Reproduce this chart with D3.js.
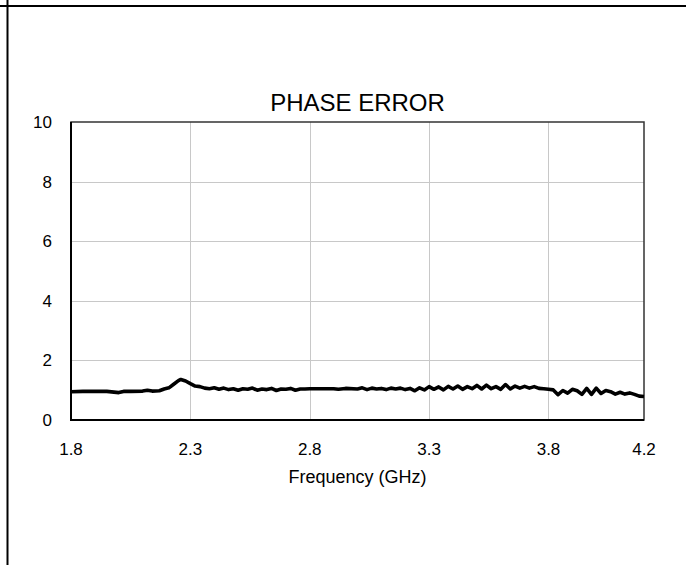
<!DOCTYPE html>
<html>
<head>
<meta charset="utf-8">
<script src="https://cdn.jsdelivr.net/npm/d3@7"></script>
<style>
  body { margin: 0; background: #fff; }
  svg { display: block; font-family: "Liberation Sans", Arial, sans-serif; }
</style>
</head>
<body>
<svg id="chart" width="687" height="565"></svg>
<script>
// phase error vs frequency
var freqs = [1.80,1.85,1.90,1.95,2.00,2.02,2.05,2.10,2.12,2.14,2.17,2.19,2.21,2.23,2.25,2.26,2.28,2.30,2.32,2.34,
             2.36,2.38,2.40,2.42,2.44,2.46,2.48,2.50,2.52,2.54,2.56,2.58,2.60,2.62,2.64,2.66,2.68,2.70,2.72,2.74,
             2.76,2.78,2.80,2.85,2.90,2.92,2.95,3.00,3.02,3.04,3.06,3.08,3.10,3.12,3.14,3.16,3.18,3.20,3.22,3.24,
             3.26,3.28,3.30,3.32,3.34,3.36,3.38,3.40,3.42,3.44,3.46,3.48,3.50,3.52,3.54,3.56,3.58,3.60,3.62,3.64,
             3.66,3.68,3.70,3.72,3.74,3.76,3.78,3.80,3.82,3.84,3.86,3.88,3.90,3.92,3.94,3.96,3.98,4.00,4.02,4.04,
             4.06,4.08,4.10,4.12,4.14,4.16,4.18,4.20];
var phaseErr = [0.95,0.96,0.96,0.96,0.92,0.96,0.96,0.97,1.00,0.97,0.98,1.04,1.08,1.20,1.32,1.36,1.31,1.22,1.14,1.12,
                1.07,1.05,1.08,1.03,1.07,1.02,1.05,1.00,1.05,1.03,1.07,1.00,1.04,1.02,1.06,0.99,1.04,1.03,1.06,1.00,
                1.04,1.04,1.05,1.05,1.05,1.03,1.06,1.04,1.08,1.02,1.07,1.04,1.06,1.02,1.07,1.04,1.07,1.02,1.06,0.98,
                1.08,1.01,1.12,1.03,1.11,1.01,1.13,1.04,1.14,1.03,1.12,1.05,1.16,1.04,1.17,1.05,1.12,1.03,1.19,1.04,
                1.14,1.07,1.13,1.07,1.12,1.06,1.05,1.03,1.01,0.85,0.99,0.90,1.03,0.98,0.86,1.06,0.86,1.07,0.89,0.99,
                0.95,0.87,0.93,0.87,0.91,0.86,0.80,0.79];
var xTicks = [1.8, 2.3, 2.8, 3.3, 3.8, 4.2];
var yTicks = [0, 2, 4, 6, 8, 10];
var chartTitle = "PHASE ERROR";
var xTitle = "Frequency (GHz)";

var svg = d3.select("#chart");
var width = +svg.attr("width"), height = +svg.attr("height");

var margin = {top: 122, right: 43, bottom: 145, left: 71};
var x = d3.scaleLinear().domain([1.8, 4.2]).range([margin.left, width - margin.right]);
var y = d3.scaleLinear().domain([0, 10]).range([height - margin.bottom, margin.top]);

// outer frame lines
svg.append("line").attr("x1", 0).attr("x2", 686).attr("y1", 6).attr("y2", 6)
  .attr("stroke", "#000").attr("stroke-width", 2);
svg.append("line").attr("x1", 7.5).attr("x2", 7.5).attr("y1", 0).attr("y2", height)
  .attr("stroke", "#000").attr("stroke-width", 2);

// gridlines
svg.append("g").selectAll("line")
  .data(yTicks.filter(function(d) { return d > 0 && d < 10; }))
  .enter().append("line")
  .attr("x1", x.range()[0]).attr("x2", x.range()[1])
  .attr("y1", function(d) { return Math.round(y(d)) + 0.5; })
  .attr("y2", function(d) { return Math.round(y(d)) + 0.5; })
  .attr("stroke", "#c8c8c8").attr("stroke-width", 1);

svg.append("g").selectAll("line")
  .data(xTicks.filter(function(d) { return d > 1.8 && d < 4.2; }))
  .enter().append("line")
  .attr("x1", function(d) { return Math.round(x(d)) + 0.5; })
  .attr("x2", function(d) { return Math.round(x(d)) + 0.5; })
  .attr("y1", y.range()[0]).attr("y2", y.range()[1])
  .attr("stroke", "#c8c8c8").attr("stroke-width", 1);

// plot border
svg.append("rect")
  .attr("x", x.range()[0]).attr("y", y.range()[1])
  .attr("width", x.range()[1] - x.range()[0])
  .attr("height", y.range()[0] - y.range()[1])
  .attr("fill", "none").attr("stroke", "#333").attr("stroke-width", 1.5);
svg.append("path")
  .attr("d", "M" + x.range()[0] + "," + y.range()[1] + "V" + y.range()[0] + "H" + x.range()[1])
  .attr("fill", "none").attr("stroke", "#000").attr("stroke-width", 2);

// data line
var line = d3.line()
  .x(function(d, i) { return x(freqs[i]); })
  .y(function(d) { return y(d); });

svg.append("path")
  .datum(phaseErr)
  .attr("fill", "none")
  .attr("stroke", "#000")
  .attr("stroke-width", 3.6)
  .attr("stroke-linejoin", "round")
  .attr("d", line);

// tick labels
svg.append("g").selectAll("text")
  .data(xTicks).enter().append("text")
  .attr("x", function(d) { return x(d); })
  .attr("y", 455)
  .attr("text-anchor", "middle")
  .attr("font-size", 17)
  .text(function(d) { return d.toFixed(1); });

svg.append("g").selectAll("text")
  .data(yTicks).enter().append("text")
  .attr("x", 52)
  .attr("y", function(d) { return y(d); })
  .attr("dy", "0.35em")
  .attr("text-anchor", "end")
  .attr("font-size", 17)
  .text(function(d) { return d; });

// titles
svg.append("text")
  .attr("x", (x.range()[0] + x.range()[1]) / 2)
  .attr("y", 111)
  .attr("text-anchor", "middle")
  .attr("font-size", 24)
  .text(chartTitle);

svg.append("text")
  .attr("x", (x.range()[0] + x.range()[1]) / 2)
  .attr("y", 483)
  .attr("text-anchor", "middle")
  .attr("font-size", 18)
  .text(xTitle);
</script>
</body>
</html>
